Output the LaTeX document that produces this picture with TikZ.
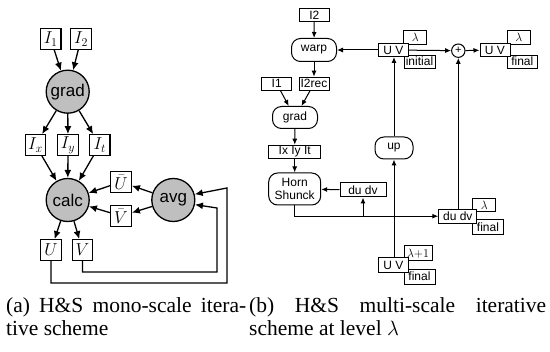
\documentclass[tikz,border=0pt]{standalone}
\usepackage{fontspec}
\setmainfont{Liberation Serif}
\newfontfamily\hv{Liberation Sans}
\usetikzlibrary{arrows.meta}
\tikzset{
  lbox/.style={draw, fill=white, line width=1.3pt, minimum width=20.5pt, minimum height=20.5pt, inner sep=0pt, font=\fontsize{17.5}{17.5}\selectfont},
  circ/.style={circle, draw, fill=gray!50, line width=1.3pt, minimum size=43pt, inner sep=0pt, font=\hv\fontsize{17}{17}\selectfont},
  larr/.style={-{Latex[length=8pt,width=7pt]}, line width=1.3pt},
  rbox/.style={draw, fill=white, line width=1pt, inner sep=0pt, font=\hv\fontsize{12}{13}\selectfont},
  rround/.style={rbox, rounded corners=9pt},
  rarr/.style={-{Latex[length=6pt,width=5pt]}, line width=1pt},
  captext/.style={anchor=base west, inner sep=0pt, font=\fontsize{21.5}{24}\selectfont}
}
\begin{document}
\begin{tikzpicture}[x=1pt,y=-1pt]
\useasboundingbox (0,0) rectangle (550,352);
% ---------- left diagram ----------
\node[lbox] (I1a) at (50.7,39) {$I_1$};
\node[lbox] (I2a) at (81,39) {$I_2$};
\node[circ] (grad) at (67.7,91.7) {grad};
\node[lbox] (Ix) at (35.5,145) {$I_x$};
\node[lbox] (Iy) at (68,145) {$I_y$};
\node[lbox] (It) at (99.7,145) {$I_t$};
\node[circ] (calc) at (67.7,200) {calc};
\node[lbox] (Ub) at (121,182) {$\bar U$};
\node[lbox] (Vb) at (121,216) {$\bar V$};
\node[circ] (avg) at (173.3,200) {avg};
\node[lbox] (U) at (51,250) {$U$};
\node[lbox] (V) at (82.5,250) {$V$};
\coordinate (uc) at (227,283);
\coordinate (vc) at (217,272);
\draw[larr] (I1a) -- (grad);
\draw[larr] (I2a) -- (grad);
\draw[larr] (grad) -- (Ix);
\draw[larr] (grad) -- (Iy);
\draw[larr] (grad) -- (It);
\draw[larr] (Ix) -- (calc);
\draw[larr] (Iy) -- (calc);
\draw[larr] (It) -- (calc);
\draw[larr] (avg) -- (Ub);
\draw[larr] (avg) -- (Vb);
\draw[larr] (Ub) -- (calc);
\draw[larr] (Vb) -- (calc);
\draw[larr] (calc) -- (U);
\draw[larr] (calc) -- (V);
\draw[larr] (U.south) |- (uc) -- ++(0,-95) -- (avg.15);
\draw[larr] (V.south) |- (vc) -- ++(0,-64) -- (avg.-12);
% ---------- right diagram ----------
\node[rbox, minimum width=30pt, minimum height=13pt] (I2) at (314.3,15) {I2};
\node[rround, minimum width=45pt, minimum height=23pt] (warp) at (314,50) {warp};
\node[rbox, minimum width=30pt, minimum height=13pt] (I1) at (276.7,83.7) {I1};
\node[rbox, minimum width=30pt, minimum height=13pt] (I2rec) at (314,83.7) {I2rec};
\node[rround, minimum width=45pt, minimum height=22pt] (grad2) at (295,117.5) {grad};
\node[rbox, minimum width=52pt, minimum height=13pt] (ixyt) at (294.7,151.7) {Ix Iy It};
\node[rround, minimum width=52pt, minimum height=32pt, align=center] (horn) at (294.7,189) {Horn\\Shunck};
\node[rbox, minimum width=46pt, minimum height=14pt] (dd1) at (363,190) {du dv};
\node[rbox, minimum width=23pt, minimum height=13pt] (dd2l) at (484.3,205) {$\lambda$};
\node[rbox, minimum width=31pt, minimum height=15pt] (dd2f) at (488,227.5) {final};
\node[rbox, minimum width=38pt, minimum height=14pt] (dd2) at (457.8,216.2) {du dv};
\node[circle, draw, line width=1pt, minimum size=13.4pt, inner sep=0pt, font=\hv\fontsize{11}{11}\selectfont] (plus) at (458.3,50.7) {+};
\node[rbox, minimum width=23pt, minimum height=14pt] (uvil) at (415.3,37.8) {$\lambda$};
\node[rbox, minimum width=31pt, minimum height=13pt] (uvii) at (419.5,61.7) {initial};
\node[rbox, minimum width=30pt, minimum height=13pt] (uvi) at (393.3,50) {U V};
\node[rbox, minimum width=23pt, minimum height=14pt] (uvfl) at (518.7,37.8) {$\lambda$};
\node[rbox, minimum width=30pt, minimum height=13pt] (uvff) at (522.3,61.7) {final};
\node[rbox, minimum width=30pt, minimum height=13pt] (uvf) at (495,50) {U V};
\node[rround, minimum width=38pt, minimum height=22pt] (up) at (394,148) {up};
\node[rbox, minimum width=28pt, minimum height=15pt] (uvnl) at (418,253.3) {$\lambda{+}1$};
\node[rbox, minimum width=31pt, minimum height=15pt] (uvnf) at (419.5,276.7) {final};
\node[rbox, minimum width=30pt, minimum height=15pt] (uvn) at (393.3,265) {U V};
\draw[rarr] (I2) -- (warp);
\draw[rarr] (uvi) -- (warp);
\draw[rarr] (warp) -- (I2rec);
\draw[rarr] (I1) -- (grad2);
\draw[rarr] (I2rec) -- (grad2);
\draw[rarr] (grad2) -- (ixyt);
\draw[rarr] (ixyt) -- (horn);
\draw[rarr] (dd1) -- (horn);
\draw[rarr] (horn.south) |- (dd2.west);
\draw[rarr] (dd1.south |- dd2.west) -- (dd1.south);
\draw[rarr] (dd2.north -| plus) -- (plus.south);
\draw[rarr] (uvi) -- (plus);
\draw[rarr] (plus) -- (uvf);
\draw[rarr] (up.north) -- (up.north |- uvi.south);
\draw[rarr] (up.south |- uvn.north) -- (up.south);
% ---------- captions ----------
\node[captext] (ca1) at (6,313) {\makebox[240pt][s]{(a) H\&S mono-scale itera-}};
\node[captext] (ca2) at (6,336) {tive scheme};
\node[captext] (cb1) at (249,313) {\makebox[297pt][s]{(b) H\&S multi-scale iterative}};
\node[captext] (cb2) at (249,336) {scheme at level $\lambda$};
\end{tikzpicture}
\end{document}
